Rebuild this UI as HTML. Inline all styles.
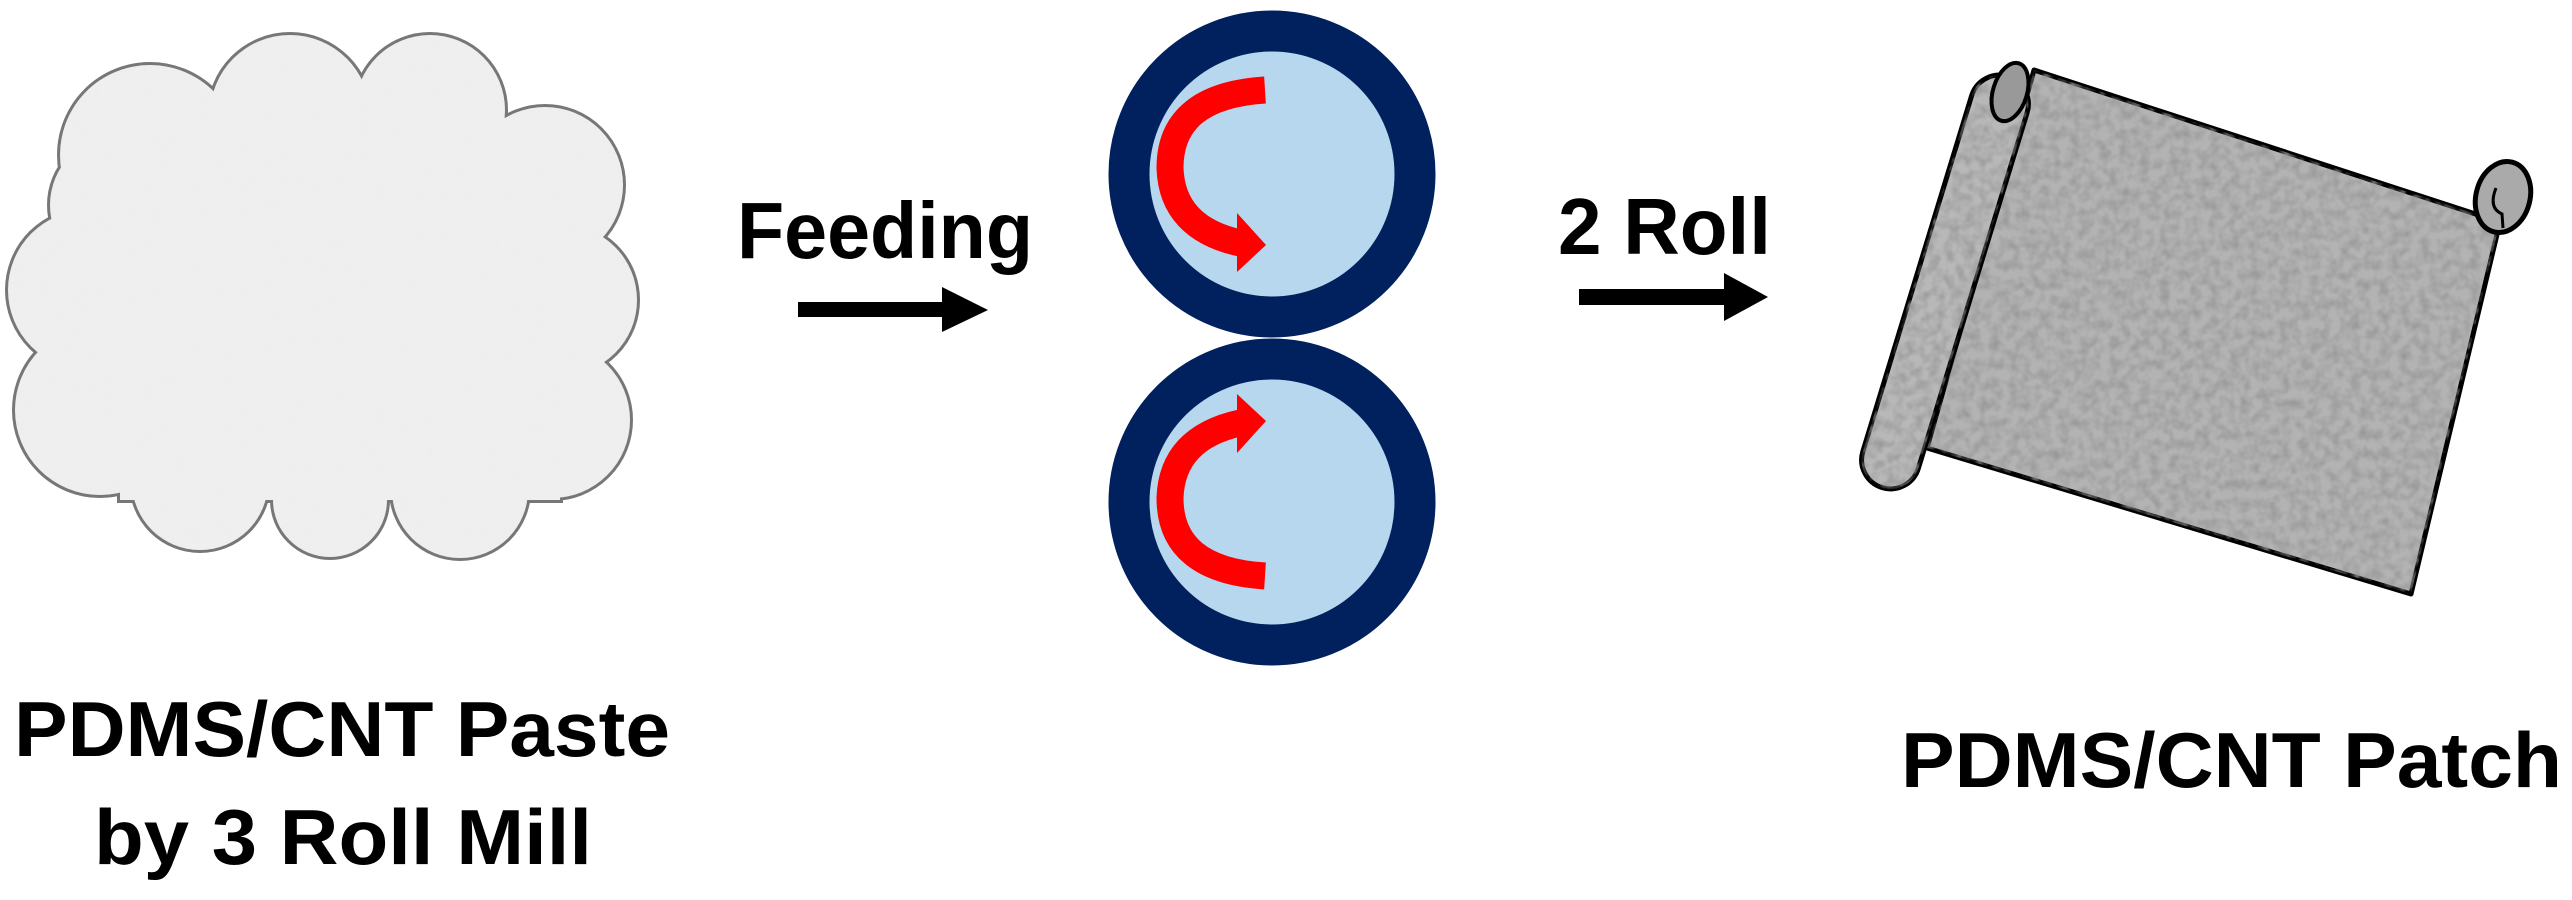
<!DOCTYPE html>
<html><head><meta charset="utf-8"><style>
html,body{margin:0;padding:0;background:#fff;}
svg{display:block;}
text{font-family:"Liberation Sans",sans-serif;font-weight:bold;fill:#000;}
</style></head><body>
<svg width="2572" height="900" viewBox="0 0 2572 900" xmlns="http://www.w3.org/2000/svg">
<defs>
<filter id="nz1" x="0" y="0" width="100%" height="100%">
<feTurbulence type="fractalNoise" baseFrequency="0.08" numOctaves="2" seed="3" result="n"/>
<feColorMatrix type="matrix" values="0 0 0 0 0.85  0 0 0 0 0.85  0 0 0 0 0.85  0 0 0 -0.6 0.5" in="n" result="c"/>
<feComposite in="c" in2="SourceGraphic" operator="in"/>
</filter>
<filter id="nz2" x="0" y="0" width="100%" height="100%">
<feTurbulence type="fractalNoise" baseFrequency="0.1" numOctaves="2" seed="7" result="n"/>
<feColorMatrix type="matrix" values="0 0 0 0 0.3  0 0 0 0 0.3  0 0 0 0 0.3  0 0 0 1.6 -0.55" in="n" result="c"/>
<feComposite in="c" in2="SourceGraphic" operator="in"/>
</filter>
<g id="cloudc">
<circle cx="150" cy="155" r="90"/><circle cx="290" cy="115" r="80"/><circle cx="430" cy="110" r="75"/>
<circle cx="545" cy="185" r="78"/><circle cx="562" cy="300" r="75"/><circle cx="552" cy="420" r="78"/>
<circle cx="460" cy="490" r="68"/><circle cx="330" cy="500" r="57"/><circle cx="200" cy="482" r="68"/>
<circle cx="100" cy="410" r="85"/><circle cx="88" cy="290" r="80"/><circle cx="120" cy="205" r="70"/>
<rect x="120" y="140" width="440" height="360"/>
</g>
</defs>

<!-- Cloud -->
<use href="#cloudc" fill="#777" stroke="#777" stroke-width="6"/>
<use href="#cloudc" fill="#efefef"/>
<use href="#cloudc" fill="#efefef" filter="url(#nz1)" opacity="0.6"/>

<!-- Texts -->
<text x="737" y="258" font-size="80" textLength="296" lengthAdjust="spacingAndGlyphs">Feeding</text>
<text x="1558" y="254" font-size="80" textLength="213" lengthAdjust="spacingAndGlyphs">2 Roll</text>
<text x="14" y="756" font-size="78" textLength="656" lengthAdjust="spacingAndGlyphs">PDMS/CNT Paste</text>
<text x="94" y="864" font-size="78" textLength="498" lengthAdjust="spacingAndGlyphs">by 3 Roll Mill</text>
<text x="1901" y="787" font-size="78" textLength="661" lengthAdjust="spacingAndGlyphs">PDMS/CNT Patch</text>

<!-- Arrows -->
<polygon points="798,302 942,302 942,287 988,310 942,332 942,317 798,317" fill="#000"/>
<polygon points="1579,289 1724,289 1724,273 1768,297 1724,321 1724,305 1579,305" fill="#000"/>

<!-- Rollers -->
<circle cx="1272" cy="174" r="143" fill="#b7d7ef" stroke="#00205e" stroke-width="41"/>
<circle cx="1272" cy="502" r="143" fill="#b7d7ef" stroke="#00205e" stroke-width="41"/>
<g id="rarrow">
<path d="M1265 90 Q1170 96 1170 168 Q1172 228 1240 243" fill="none" stroke="#ff0000" stroke-width="27"/>
<polygon points="1237,213 1266,245 1237,272" fill="#ff0000"/>
</g>
<use href="#rarrow" transform="translate(0,666) scale(1,-1)"/>

<!-- Scroll -->
<polygon points="2034,70 2500,222 2411,594 1927,448" fill="#b3b3b3" stroke="#000" stroke-width="5" stroke-linejoin="round"/>
<polygon points="2034,70 2500,222 2411,594 1927,448" fill="#b3b3b3" filter="url(#nz2)"/>
<rect x="-29" y="-215" width="58" height="430" rx="29" fill="#b8b8b8" stroke="#000" stroke-width="5" transform="translate(1945,282) rotate(17)"/>
<rect x="-29" y="-215" width="58" height="430" rx="29" fill="#b8b8b8" filter="url(#nz2)" transform="translate(1945,282) rotate(17)"/>
<ellipse cx="2010" cy="92" rx="17" ry="30" fill="#999" stroke="#000" stroke-width="4" transform="rotate(17 2010 92)"/>
<ellipse cx="2503" cy="197" rx="27" ry="36" fill="#aaa" stroke="#000" stroke-width="5" transform="rotate(15 2503 197)"/>
<path d="M2496 188 Q2488 208 2502 214 L2503 228" fill="none" stroke="#000" stroke-width="3"/>
</svg>
</body></html>
